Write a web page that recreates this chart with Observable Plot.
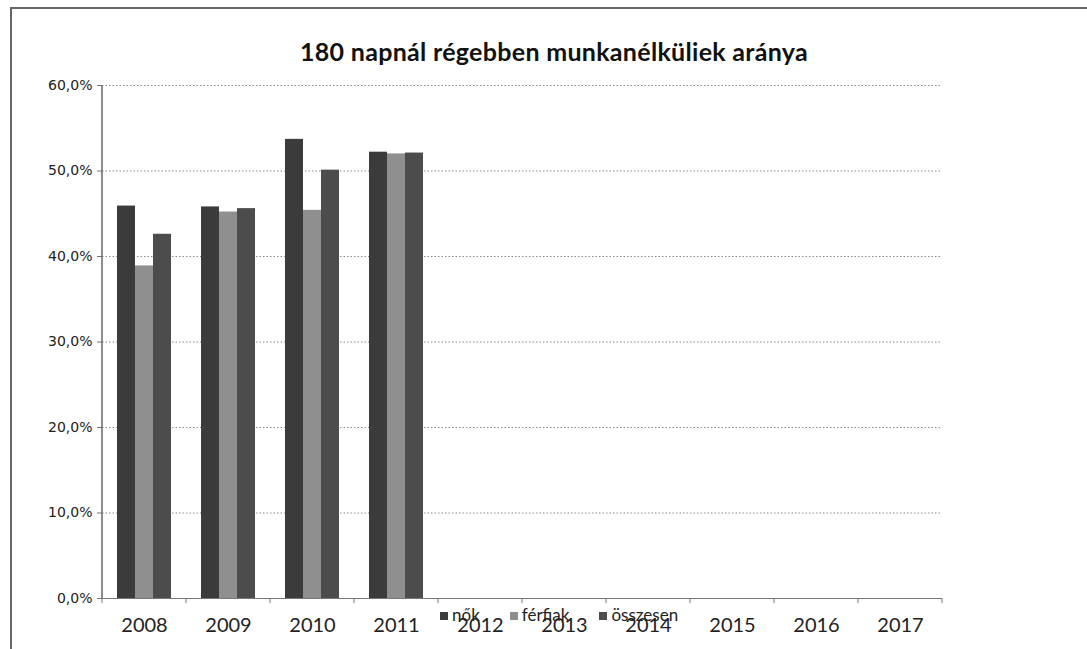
<!DOCTYPE html>
<html><head><meta charset="utf-8">
<script src="https://cdn.jsdelivr.net/npm/d3@7"></script>
<script src="https://cdn.jsdelivr.net/npm/@observablehq/plot@0.6"></script>
<style>
body{margin:0;background:#fff;}
#wrap{position:relative;width:1087px;height:649px;overflow:hidden;background:#fff;}
#border{position:absolute;left:10px;top:7px;width:1100px;height:700px;border-left:2px solid #666;border-top:2px solid #666;}
#title{position:absolute;left:0;width:1108px;top:36px;line-height:25px;text-align:center;font:bold 25px Lato, "Open Sans", sans-serif;letter-spacing:0.3px;color:#111;}
#chart{position:absolute;left:0;top:0;}
#legend{position:absolute;top:606px;left:440px;display:flex;gap:30px;font:17px Lato, sans-serif;line-height:17px;color:#222;}
#legend .item{display:flex;align-items:center;gap:4px;}
#legend .sw{width:8px;height:8px;display:inline-block;position:relative;top:1px;}
</style>
</head><body>
<div id="wrap">
  <div id="border"></div>
  <div id="chart"></div>
  <div id="title">180 napnál régebben munkanélküliek aránya</div>
  <div id="legend"></div>
</div>
<script>
const years = ["2008","2009","2010","2011","2012","2013","2014","2015","2016","2017"];
const series = ["nők","férfiak","összesen"];
const nok = [45.9, 45.8, 53.7, 52.2];
const ferfiak = [38.9, 45.2, 45.4, 52.0];
const osszesen = [42.6, 45.6, 50.1, 52.1];
const yTicks = [0, 10, 20, 30, 40, 50, 60];
const colors = ["#3b3b3b", "#8f8f8f", "#4c4c4c"];

const data = [];
[nok, ferfiak, osszesen].forEach((vals, si) =>
  vals.forEach((v, i) => data.push({year: years[i], series: series[si], value: v})));

// grid rows: one per year facet and y tick, so every year facet is drawn
const gridRows = years.flatMap(yr => yTicks.map(t => ({year: yr, t})));
const baseRows = years.map(yr => ({year: yr, t: 0}));

const fmt = d => d.toFixed(1).replace(".", ",") + "%";

const plot = Plot.plot({
  width: 1087, height: 649,
  marginTop: 85, marginLeft: 102, marginRight: 145, marginBottom: 51,
  style: {fontFamily: "DejaVu Sans", fontSize: "14px", color: "#222", background: "transparent"},
  fx: {domain: years, padding: 0, label: null},
  x: {domain: series, axis: null, paddingInner: 0, paddingOuter: 0.8},
  y: {domain: [0, 60], label: null},
  color: {domain: series, range: colors},
  marks: [
    Plot.ruleY(gridRows, {fx: "year", y: "t", stroke: "#8a8a8a", strokeDasharray: "1.5,2"}),
    Plot.axisY(yTicks, {tickFormat: fmt, tickSize: 5, tickPadding: 5, stroke: "#777", fontSize: 14, fontFamily: "DejaVu Sans", fill: "#222", label: null}),
    Plot.axisFx({anchor: "bottom", tickSize: 0, tickPadding: 19, fontSize: 20, fontFamily: "Lato", fill: "#222", label: null}),
    Plot.barY(data, {fx: "year", x: "series", y: "value", fill: "series"}),
    Plot.ruleY(baseRows, {fx: "year", y: "t", stroke: "#777", strokeWidth: 1.2})
  ]
});
document.getElementById("chart").appendChild(plot);

// axis line and category boundary ticks from the plot's own scales
const fxs = plot.scale("fx"), ys = plot.scale("y");
const svg = d3.select(plot);
const y0 = ys.apply(0), yTop = ys.apply(60);
const x0 = fxs.apply(years[0]);
svg.append("line").attr("x1", x0).attr("x2", x0).attr("y1", yTop).attr("y2", y0)
  .attr("stroke", "#666").attr("stroke-width", 1.5);
const bounds = years.map(y => fxs.apply(y)).concat([fxs.apply(years[years.length-1]) + fxs.bandwidth]);
svg.append("g").selectAll("line").data(bounds).join("line")
  .attr("x1", d => d).attr("x2", d => d).attr("y1", y0).attr("y2", y0 + 5)
  .attr("stroke", "#777");

// legend
const leg = d3.select("#legend");
series.forEach((s, i) => {
  const it = leg.append("div").attr("class", "item");
  it.append("span").attr("class", "sw").style("background", colors[i]);
  it.append("span").text(s);
});
</script>
</body></html>
